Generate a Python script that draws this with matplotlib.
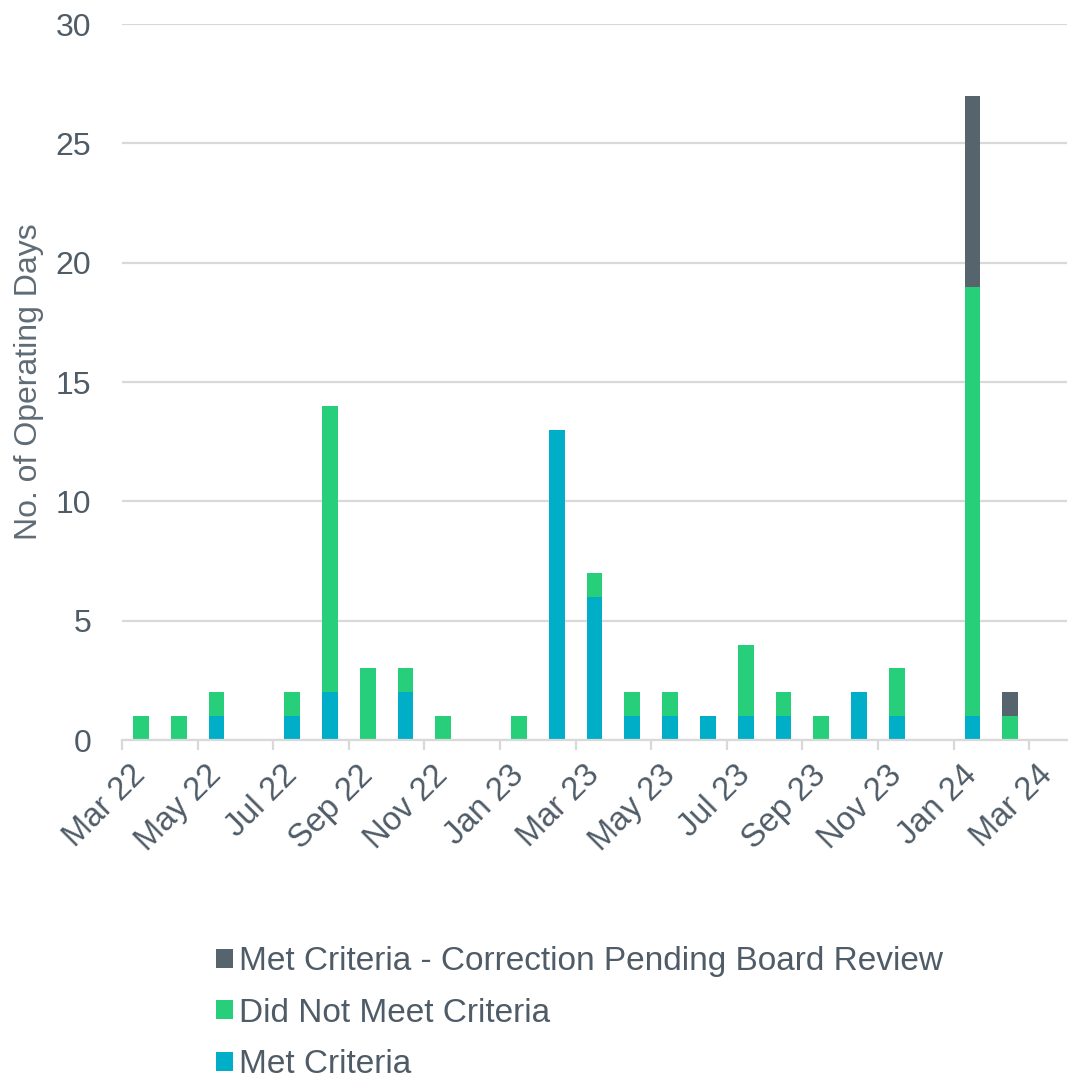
import matplotlib
matplotlib.use("Agg")
import matplotlib.pyplot as plt
import matplotlib.transforms as mtransforms
import numpy as np

# ---- data ----
months = ["Mar 22", "Apr 22", "May 22", "Jun 22", "Jul 22", "Aug 22", "Sep 22", "Oct 22",
          "Nov 22", "Dec 22", "Jan 23", "Feb 23", "Mar 23", "Apr 23", "May 23", "Jun 23",
          "Jul 23", "Aug 23", "Sep 23", "Oct 23", "Nov 23", "Dec 23", "Jan 24", "Feb 24"]
met_criteria = [0, 0, 1, 0, 1, 2, 0, 2, 0, 0, 0, 13, 6, 1, 1, 1, 1, 1, 0, 2, 1, 0, 1, 0]
did_not_meet = [1, 1, 1, 0, 1, 12, 3, 1, 1, 0, 1, 0, 1, 1, 1, 0, 3, 1, 1, 0, 2, 0, 18, 1]
pending_review = [0, 0, 0, 0, 0, 0, 0, 0, 0, 0, 0, 0, 0, 0, 0, 0, 0, 0, 0, 0, 0, 0, 8, 1]
tick_labels = ["Mar 22", "May 22", "Jul 22", "Sep 22", "Nov 22", "Jan 23", "Mar 23",
               "May 23", "Jul 23", "Sep 23", "Nov 23", "Jan 24", "Mar 24"]
series_names = ["Met Criteria", "Did Not Meet Criteria",
                "Met Criteria - Correction Pending Board Review"]

# ---- style ----
C_MET = "#00AEC7"
C_DNM = "#27CF7A"
C_PEND = "#56646E"
TXT = "#4F5C67"
GRID = "#D9D9D9"

plt.rcParams['font.family'] = ['Liberation Sans', 'DejaVu Sans']

W, H = 1074, 1086
fig = plt.figure(figsize=(W / 100, H / 100), dpi=100)
ax = fig.add_axes([122 / W, 1 - 740 / H, (1067 - 122) / W, (740 - 24) / H])

x = np.arange(len(months)) + 0.5
met = np.array(met_criteria)
dnm = np.array(did_not_meet)
pend = np.array(pending_review)
bw = 0.42

b1 = ax.bar(x, met, width=bw, color=C_MET, zorder=3, label=series_names[0])
b2 = ax.bar(x, dnm, width=bw, bottom=met, color=C_DNM, zorder=3, label=series_names[1])
b3 = ax.bar(x, pend, width=bw, bottom=met + dnm, color=C_PEND, zorder=3, label=series_names[2])

ax.set_xlim(0, 25)
ax.set_ylim(0, 30)
ax.set_yticks(np.arange(0, 31, 5))
ax.yaxis.grid(True, color=GRID, linewidth=1.6, zorder=0)
ax.set_axisbelow(True)

for s in ["top", "right", "left"]:
    ax.spines[s].set_visible(False)
ax.spines["bottom"].set_color(GRID)
ax.spines["bottom"].set_linewidth(1.6)
ax.spines["bottom"].set_zorder(4)

ax.tick_params(axis="y", length=0, pad=22, labelsize=23, labelcolor=TXT)
ax.tick_params(axis="x", length=7, width=1.6, color=GRID, pad=15, labelsize=23.5, labelcolor=TXT)

ticks = np.arange(0, 25, 2)
ax.set_xticks(ticks)
ax.set_xticklabels(tick_labels, rotation=45, ha="right", va="center", rotation_mode="anchor")
offset = mtransforms.ScaledTranslation(0.19, 0.0, fig.dpi_scale_trans)
for lbl in ax.get_xticklabels():
    lbl.set_transform(lbl.get_transform() + offset)

ax.set_ylabel("No. of Operating Days", fontsize=23, color="#5F6B75")
ax.yaxis.set_label_coords(-0.083, 0.5)

fig.legend(handles=[b3, b2, b1], labels=[series_names[2], series_names[1], series_names[0]],
           loc="center left", bbox_to_anchor=(216 / W, 1 - 1013 / H),
           frameon=False, fontsize=24, labelcolor=TXT,
           handlelength=0.5, handleheight=0.5, handletextpad=0.2,
           labelspacing=0.62, borderpad=0, borderaxespad=0)

fig.savefig("out.png", dpi=100, facecolor="white")
